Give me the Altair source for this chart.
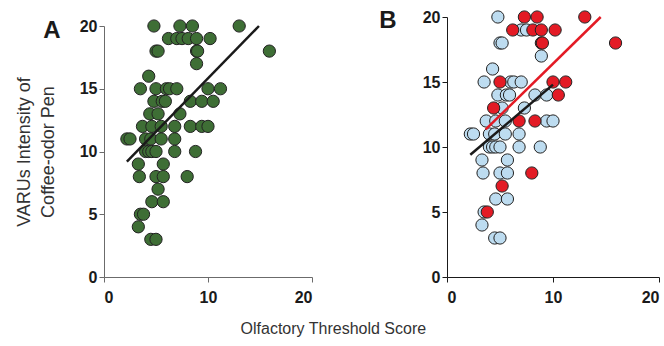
import altair as alt
import pandas as pd

# Olfactory threshold score (x), VARUs intensity (y) and subgroup of each subject
threshold = [
    4.8, 7.3, 8.5, 13.0,
    6.2, 7.0, 7.5, 8.1, 8.9, 10.2,
    5.0, 5.2, 8.9, 9.0, 15.9,
    8.9,
    4.3,
    3.5, 5.0, 6.0, 6.3, 7.0, 10.0, 11.2,
    4.8, 5.6, 5.9, 8.3, 9.4, 10.5,
    4.4, 5.2, 7.3,
    3.7, 4.6, 5.5, 6.8, 8.3, 9.4, 10.0,
    2.2, 2.5, 4.0, 4.5, 5.5, 6.8,
    4.0, 4.3, 4.6, 5.0, 6.8, 8.8,
    3.3, 5.7,
    3.4, 5.0, 5.7, 8.0,
    5.2,
    4.6, 5.7,
    3.5, 3.8,
    3.3,
    4.5, 5.0,
]
varus = [
    20, 20, 20, 20,
    19, 19, 19, 19, 19, 19,
    18, 18, 18, 18, 18,
    17,
    16,
    15, 15, 15, 15, 15, 15, 15,
    14, 14, 14, 14, 14, 14,
    13, 13, 13,
    12, 12, 12, 12, 12, 12, 12,
    11, 11, 11, 11, 11, 11,
    10, 10, 10, 10, 10, 10,
    9, 9,
    8, 8, 8, 8,
    7,
    6, 6,
    5, 5,
    4,
    3, 3,
]
group = [
    "b", "r", "r", "r",
    "r", "b", "b", "r", "r", "r",
    "b", "b", "r", "r", "r",
    "b",
    "b",
    "b", "r", "b", "b", "b", "r", "r",
    "b", "b", "b", "b", "b", "r",
    "r", "b", "b",
    "b", "b", "b", "r", "r", "b", "b",
    "b", "b", "b", "b", "b", "b",
    "b", "b", "b", "b", "b", "b",
    "b", "b",
    "b", "b", "b", "r",
    "r",
    "b", "b",
    "b", "r",
    "b",
    "b", "b",
]

# Fitted trend lines (start and end point of each)
fit_name = ["all", "all", "b", "b", "r", "r"]
fit_threshold = [2.2, 14.9, 2.2, 10.0, 3.65, 14.5]
fit_varus = [9.2, 20.0, 9.4, 14.8, 11.35, 20.0]

df = pd.DataFrame({"threshold": threshold, "varus": varus, "group": group})
fits = pd.DataFrame({"fit": fit_name, "threshold": fit_threshold, "varus": fit_varus})

FONT = "Liberation Sans"
GREEN = "#3e6e35"
BLUE = "#bddcf0"
RED = "#e31b25"


def encodings(height, top, title, domain_color):
    x = alt.X(
        "threshold:Q",
        scale=alt.Scale(domain=[0, 20], nice=False),
        axis=alt.Axis(
            values=[0, 10, 20], title=None, grid=False, domainColor=domain_color,
            tickColor=domain_color, tickSize=5, labelPadding=7, labelFont=FONT,
            labelFontSize=16, labelFontWeight="bold", labelColor="#1a1a1a",
        ),
    )
    y = alt.Y(
        "varus:Q",
        scale=alt.Scale(domain=[0, 20], nice=False, range=[height, top]),
        axis=alt.Axis(
            values=[0, 5, 10, 15, 20], grid=False, domainColor=domain_color,
            tickColor=domain_color, tickSize=5, labelPadding=2, labelFont=FONT,
            labelFontSize=16, labelFontWeight="bold", labelColor="#1a1a1a",
            title=title, titleFont=FONT, titleFontSize=18, titleFontWeight="normal",
            titleColor="#333333", titleLineHeight=24, titlePadding=22,
        ),
    )
    return x, y


def letter(text, dx, dy):
    return alt.Chart(pd.DataFrame({"panel": [text]})).mark_text(
        font=FONT, fontSize=24, fontWeight="bold", color="#1a1a1a",
        align="center", baseline="middle",
    ).encode(text="panel:N", x=alt.value(dx), y=alt.value(dy))


point_style = dict(size=150, opacity=1, stroke="#222222", strokeWidth=1)

# Panel A: all subjects
xa, ya = encodings(260, 9, ["VARUs Intensity of", "Coffee-odor Pen"], "#6b6b6b")
pts_a = alt.Chart(df).mark_circle(color=GREEN, **point_style).encode(x=xa, y=ya)
line_a = alt.Chart(fits[fits.fit == "all"]).mark_line(color="#1a1a1a", strokeWidth=2.5).encode(x=xa, y=ya)
panel_a = alt.layer(pts_a, line_a, letter("A", -52, 14)).properties(width=208, height=260)

# Panel B: subjects split into two subgroups
xb, yb = encodings(260, 0, None, "#1a1a1a")
color_b = alt.Color("group:N", scale=alt.Scale(domain=["b", "r"], range=[BLUE, RED]), legend=None)
pts_b_blue = alt.Chart(df[df.group == "b"]).mark_circle(**point_style).encode(x=xb, y=yb, color=color_b)
pts_b_red = alt.Chart(df[df.group == "r"]).mark_circle(**point_style).encode(x=xb, y=yb, color=color_b)
line_b = alt.Chart(fits[fits.fit != "all"]).mark_line(strokeWidth=2.5).encode(
    x=xb, y=yb, detail="fit:N",
    color=alt.Color("fit:N", scale=alt.Scale(domain=["b", "r"], range=["#1a1a1a", RED]), legend=None),
)
panel_b = alt.layer(pts_b_blue, pts_b_red, line_b, letter("B", -59, 4)).resolve_scale(
    color="independent"
).properties(width=212, height=260)

chart = alt.hconcat(panel_a, panel_b, spacing=135, bounds="flush").properties(
    title=alt.TitleParams(
        "Olfactory Threshold Score", orient="bottom", anchor="middle", frame="bounds",
        font=FONT, fontSize=16, fontWeight="normal", color="#333333", offset=16, dx=-4,
    ),
    padding={"left": 15, "top": 8, "right": 4, "bottom": 6},
).configure_view(stroke=None)

chart.save("out.html", embed_options={"renderer": "svg", "actions": False})
